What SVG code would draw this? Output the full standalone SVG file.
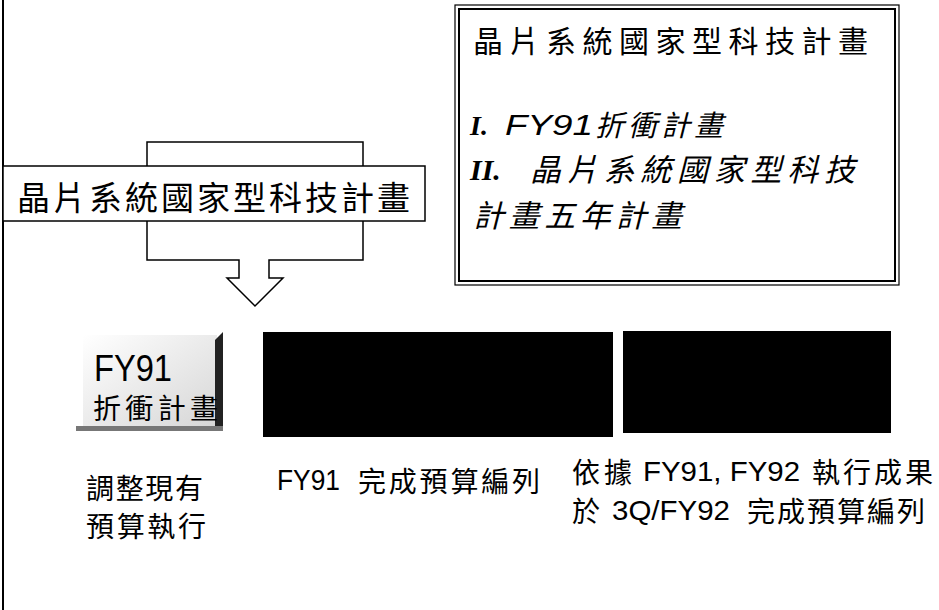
<svg xmlns="http://www.w3.org/2000/svg" width="939" height="610" viewBox="0 0 939 610">
<defs>
<style>
.cjk{font-family:"Noto Sans CJK TC","Noto Sans CJK SC",sans-serif;fill:#000}
.lat{font-family:"Liberation Sans","DejaVu Sans",sans-serif;fill:#000}
.ser{font-family:"Liberation Serif",serif;font-weight:bold;font-style:italic;fill:#000}
.it{font-style:italic}
.ln{fill:none;stroke:#000}
</style>
<linearGradient id="fyg" x1="0" y1="0" x2="1" y2="1">
<stop offset="0" stop-color="#ffffff"/>
<stop offset="1" stop-color="#d6d6d6"/>
</linearGradient>
</defs>
<rect width="939" height="610" fill="#fff"/>
<line class="ln" x1="3" y1="0" x2="3" y2="610" stroke-width="2"/>

<g id="callout">
<path d="M147,142 H363 V260 H269 V278 H283 L255,306 L227,278 H239 V260 H147 Z" fill="#fff" stroke="#000" stroke-width="1.5"/>
</g>

<g id="banner">
<rect x="3" y="166" width="422" height="55" fill="#fff" stroke="#000" stroke-width="1.5"/>
<text class="cjk" x="17" y="210" font-size="33" textLength="393" lengthAdjust="spacing">晶片系統國家型科技計畫</text>
</g>

<g id="legend">
<rect x="455" y="5" width="444" height="280" fill="#fff" stroke="#000" stroke-width="1.2"/>
<rect x="459" y="9" width="436" height="272" fill="none" stroke="#000" stroke-width="2"/>
<text class="cjk" x="473" y="52" font-size="30" textLength="395" lengthAdjust="spacing">晶片系統國家型科技計畫</text>
<text class="ser" x="470" y="135" font-size="28">I.</text>
<text class="lat it" x="505" y="135" font-size="29" textLength="88" lengthAdjust="spacingAndGlyphs">FY91</text>
<text class="cjk it" x="595" y="136" font-size="29" textLength="128" lengthAdjust="spacing">折衝計畫</text>
<text class="ser" x="470" y="180" font-size="30">II.</text>
<text class="cjk it" x="530" y="181" font-size="31" textLength="325" lengthAdjust="spacing">晶片系統國家型科技</text>
<text class="cjk it" x="473" y="227" font-size="31" textLength="209" lengthAdjust="spacing">計畫五年計畫</text>
</g>

<g id="fy91-box">
<rect x="83" y="335" width="134" height="93" fill="url(#fyg)"/>
<polygon points="215,340 223,332 223,431 215,431" fill="#222"/>
<rect x="76" y="426" width="147" height="5" fill="#777"/>
<text class="lat" x="94" y="381" font-size="36" textLength="78" lengthAdjust="spacingAndGlyphs">FY91</text>
<text class="cjk" x="93" y="419" font-size="28" textLength="125" lengthAdjust="spacing">折衝計畫</text>
</g>

<g id="block-fy91">
<rect x="263" y="332" width="350" height="105" fill="#000"/>
</g>

<g id="block-fy92">
<rect x="623" y="331" width="268" height="102" fill="#000"/>
</g>

<g id="label-adjust">
<text class="cjk" x="86" y="499" font-size="28" textLength="117" lengthAdjust="spacing">調整現有</text>
<text class="cjk" x="86" y="537" font-size="28" textLength="120" lengthAdjust="spacing">預算執行</text>
</g>

<g id="label-fy91">
<text class="lat" x="277" y="490" font-size="29" textLength="63" lengthAdjust="spacingAndGlyphs">FY91</text>
<text class="cjk" x="358" y="492" font-size="28" textLength="182" lengthAdjust="spacing">完成預算編列</text>
</g>

<g id="label-fy92">
<text class="cjk" x="572" y="483" font-size="28" textLength="60" lengthAdjust="spacing">依據</text>
<text class="lat" x="643" y="481" font-size="28" textLength="157" lengthAdjust="spacingAndGlyphs">FY91, FY92</text>
<text class="cjk" x="812" y="483" font-size="28" textLength="121" lengthAdjust="spacing">執行成果</text>
<text class="cjk" x="572" y="522" font-size="28">於</text>
<text class="lat" x="612" y="520" font-size="28" textLength="118" lengthAdjust="spacingAndGlyphs">3Q/FY92</text>
<text class="cjk" x="747" y="522" font-size="28" textLength="178" lengthAdjust="spacing">完成預算編列</text>
</g>
</svg>
